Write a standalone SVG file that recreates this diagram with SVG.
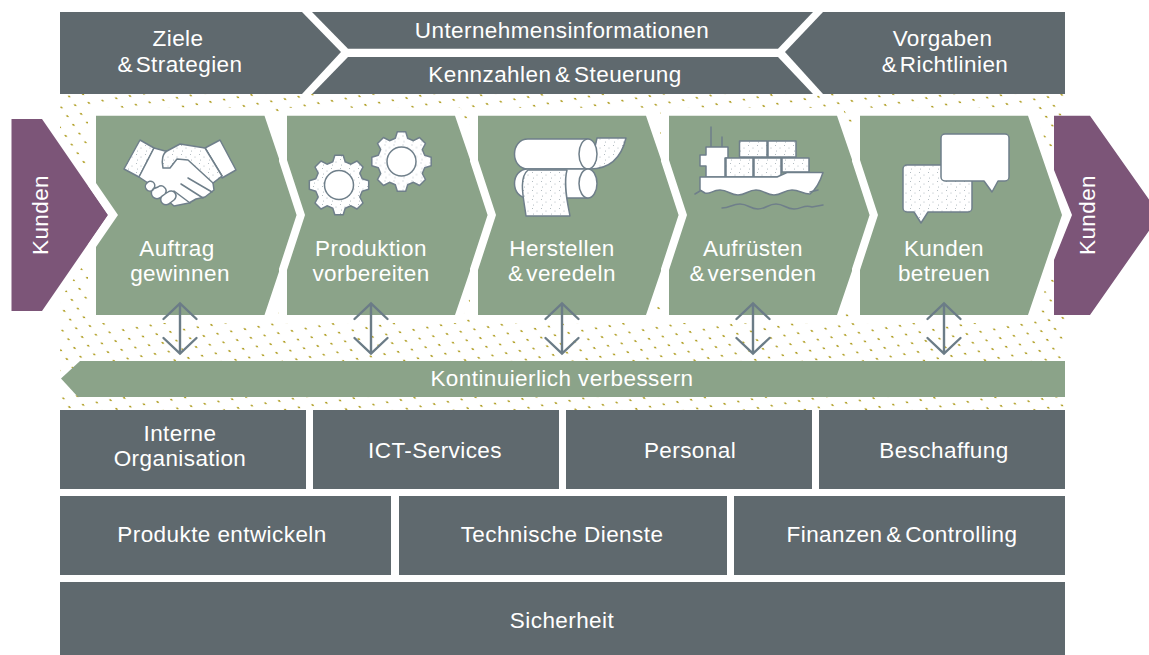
<svg xmlns="http://www.w3.org/2000/svg" width="1149" height="655" viewBox="0 0 1149 655">
<style>
text{font-family:"Liberation Sans",Arial,sans-serif;font-size:22.5px;letter-spacing:.42px;fill:#fff;text-anchor:middle}
.amp{word-spacing:-4px}.amp2{word-spacing:-3px}
.gray{fill:#5f696e}
.green{fill:#8ba389;stroke:#fff;stroke-width:16;stroke-linejoin:miter;paint-order:stroke}
.purple{fill:#7c5578;stroke:#fff;stroke-width:16;paint-order:stroke}
.i{stroke:#6f7f8a;stroke-width:1.5;stroke-linejoin:round;stroke-linecap:round}
.w{fill:#fff}.s{fill:url(#st)}.n{fill:none}
.arrow{fill:none;stroke:#6b7c87;stroke-width:2.4;stroke-linecap:round;stroke-linejoin:miter}
</style>
<defs>
<pattern id="dots" patternUnits="userSpaceOnUse" width="13.7" height="8.7" patternTransform="matrix(1 -.168 .69 1 2.4 6.2)"><circle cx="4" cy="4" r="1" fill="#ae9c1e"/></pattern>
<pattern id="st" patternUnits="userSpaceOnUse" width="9" height="9"><rect width="9" height="9" fill="#fff"/><circle cx="1.500" cy="1.500" r=".5" fill="#9aa6ad"/><circle cx="6" cy="4" r=".5" fill="#9aa6ad"/><circle cx="2.500" cy="7" r=".5" fill="#9aa6ad"/></pattern>
<g id="gear"><path class="i s" d="M23.2-6.2 29.7-4.2 29.7 4.2 23.2 6.2 20.8 12 24 18 18 24 12 20.8 6.2 23.2 4.2 29.7-4.2 29.7-6.2 23.2-12 20.8-18 24-24 18-20.8 12-23.2 6.2-29.7 4.2-29.7-4.2-23.2-6.2-20.8-12-24-18-18-24-12-20.8-6.2-23.2-4.2-29.7 4.2-29.7 6.2-23.2 12-20.8 18-24 24-18 20.8-12Z"/><circle class="i w" r="14.5"/></g>
</defs>
<rect id="dotted-field" x="60" y="94" width="1005" height="316" fill="url(#dots)"/>

<g id="ziele"><path class="gray" d="M60 12H302L341 52 302 94H60Z"/><text x="178" y="45.500">Ziele</text><text class="amp" x="180" y="71.500">&amp; Strategien</text></g>
<g id="unternehmensinformationen"><path class="gray" d="M312 12H813L778 48.700H348Z"/><text x="562" y="38">Unternehmensinformationen</text></g>
<g id="kennzahlen"><path class="gray" d="M348 57H778L813 94H312Z"/><text class="amp2" x="555" y="82">Kennzahlen &amp; Steuerung</text></g>
<g id="vorgaben"><path class="gray" d="M1065 12H823L785 52 823 94H1065Z"/><text x="942.500" y="45.500">Vorgaben</text><text class="amp" x="945" y="71.500">&amp; Richtlinien</text></g>

<g id="kunden-links"><path class="purple" d="M11.500 119H42L108 215 42 311H11.500Z"/><text transform="translate(48 215) rotate(-90)">Kunden</text></g>

<g id="auftrag"><path class="green" d="M96 115.700H264.500L298 215 264.500 315H96V247L118 215 96 183Z"/>
<path class="i s" d="M140 140 154 148 139 177 124 169Z"/>
<path class="i w" d="M220 140 236 170 222 178 205 148Z"/>
<path class="i w" d="M154 148 165 151 205 148 222 176 213 183 214 190 205 197 196 199 189 203 174 206 166 199 158 196 152 190 148 183 139 177Z"/>
<path class="i s" d="M205 148 222 176 213 183 188 160 177 159 170 168 163 168C161 160 163 153 167 151L180 144Z"/>
<path class="i n" d="M188 178 212 192M181 184 203 198M174 191 190 203"/>
<path class="i w" d="M147 183a4 4 0 1 1 7 5l-1 2a4 4 0 0 1-6-7Zm6 6 5-2a5 5 0 0 1 7 7l-4 3a5 5 0 0 1-8-8Zm9 7 6-4a5 5 0 0 1 6 8l-4 3a5 5 0 0 1-8-7Z"/>
<text x="177" y="256">Auftrag</text><text x="180" y="281">gewinnen</text></g>

<g id="produktion"><path class="green" d="M287 115.700H455L489 215 455 315H287V270L305 215 287 160Z"/>
<use href="#gear" x="339" y="185"/><use href="#gear" x="401.500" y="161.500"/>
<text x="371" y="256">Produktion</text><text x="371" y="281">vorbereiten</text></g>

<g id="herstellen"><path class="green" d="M478 115.700H646L680 215 646 315H478V270L496 215 478 160Z"/>
<path class="i s" d="M597 138H626C622 155 612 169 590 169Z"/>
<path class="i w" d="M588 139H528C510 139 510 169 528 169H588Z"/><ellipse class="i w" cx="588" cy="154" rx="9" ry="15"/>
<path class="i w" d="M588 169H528C510 169 510 198 528 198H588Z"/><ellipse class="i w" cx="588" cy="183.500" rx="9" ry="14.500"/>
<path class="i s" d="M528 170H567C563 185 568 205 570 216H526C524 200 518 178 528 170Z"/>
<text x="562" y="256">Herstellen</text><text class="amp" x="562" y="281">&amp; veredeln</text></g>

<g id="aufruesten"><path class="green" d="M669 115.700H837L871 215 837 315H669V270L687 215 669 160Z"/>
<path class="i n" d="M711 127V147M722 137V147"/>
<path class="i w" d="M706 147H728V158H725V177H706V166H700V155H706Z"/>
<path class="i s" d="M739.500 141H767V157H739.500ZM768 141H796V157H768ZM726 158H753V177H726ZM754 158H781V177H754ZM782 158H809V172H782Z"/>
<path class="i w" d="M700 177H777L787 172.500H823C820 182 815 190 810 194 802 194 800 190 792 190 784 190 782 195 774 195 766 195 764 190 756 190 748 190 746 195 738 195 730 195 728 190 720 190 712 190 710 195 705 193L700 190Z"/>
<path class="i n" d="M695 194 700 191M810 192 818 190M722 208C730 208 732 204 740 204S750 209 758 209 768 204 776 204 786 209 794 209 804 204 812 207L823 205"/>
<text x="753" y="256">Aufrüsten</text><text class="amp" x="753" y="281">&amp; versenden</text></g>

<g id="kunden-betreuen"><path class="green" d="M860 115.700H1028L1062 215 1028 315H860V270L878 215 860 160Z"/>
<path class="i s" d="M907 165H968a4 4 0 0 1 4 4V208a4 4 0 0 1-4 4H928L921 223 914 212H907a4 4 0 0 1-4-4V169a4 4 0 0 1 4-4Z"/>
<path class="i w" d="M945 134H1005a4 4 0 0 1 4 4V177a4 4 0 0 1-4 4H998L992 192 984 181H945a4 4 0 0 1-4-4V138a4 4 0 0 1 4-4Z"/>
<text x="944" y="256">Kunden</text><text x="944" y="281">betreuen</text></g>

<g id="kunden-rechts"><path d="M1054 115.700H1090L1160 215 1090 315H1054V260L1072 215 1054 170Z" fill="#7c5578"/><text transform="translate(1095 215) rotate(-90)">Kunden</text></g>

<g id="verbessern"><path d="M61 378.500 80 361H1065V397H78Z" fill="#8ba389"/><text x="562" y="386">Kontinuierlich verbessern</text></g>

<g id="connectors">
<path class="arrow" d="M180 304V353M163.500 319 180 303.500 196.500 319M163.500 338 180 353.500 196.500 338"/>
<path class="arrow" d="M371 304V353M354.500 319 371 303.500 387.500 319M354.500 338 371 353.500 387.500 338"/>
<path class="arrow" d="M562 304V353M545.500 319 562 303.500 578.500 319M545.500 338 562 353.500 578.500 338"/>
<path class="arrow" d="M753 304V353M736.500 319 753 303.500 769.500 319M736.500 338 753 353.500 769.500 338"/>
<path class="arrow" d="M944 304V353M927.500 319 944 303.500 960.500 319M927.500 338 944 353.500 960.500 338"/>
</g>

<g id="interne"><rect class="gray" x="60" y="410" width="246" height="79"/><text x="180" y="441">Interne</text><text x="180" y="466">Organisation</text></g>
<g id="ict"><rect class="gray" x="313" y="410" width="246" height="79"/><text x="435" y="458">ICT-Services</text></g>
<g id="personal"><rect class="gray" x="566" y="410" width="246" height="79"/><text x="690" y="458">Personal</text></g>
<g id="beschaffung"><rect class="gray" x="819" y="410" width="246" height="79"/><text x="944" y="458">Beschaffung</text></g>
<g id="produkte"><rect class="gray" x="60" y="496" width="331" height="79"/><text x="222" y="542">Produkte entwickeln</text></g>
<g id="technische"><rect class="gray" x="399" y="496" width="328" height="79"/><text x="562" y="542">Technische Dienste</text></g>
<g id="finanzen"><rect class="gray" x="734" y="496" width="331" height="79"/><text class="amp2" x="902" y="542">Finanzen &amp; Controlling</text></g>
<g id="sicherheit"><rect class="gray" x="60" y="582" width="1005" height="73"/><text x="562" y="628">Sicherheit</text></g>
</svg>
